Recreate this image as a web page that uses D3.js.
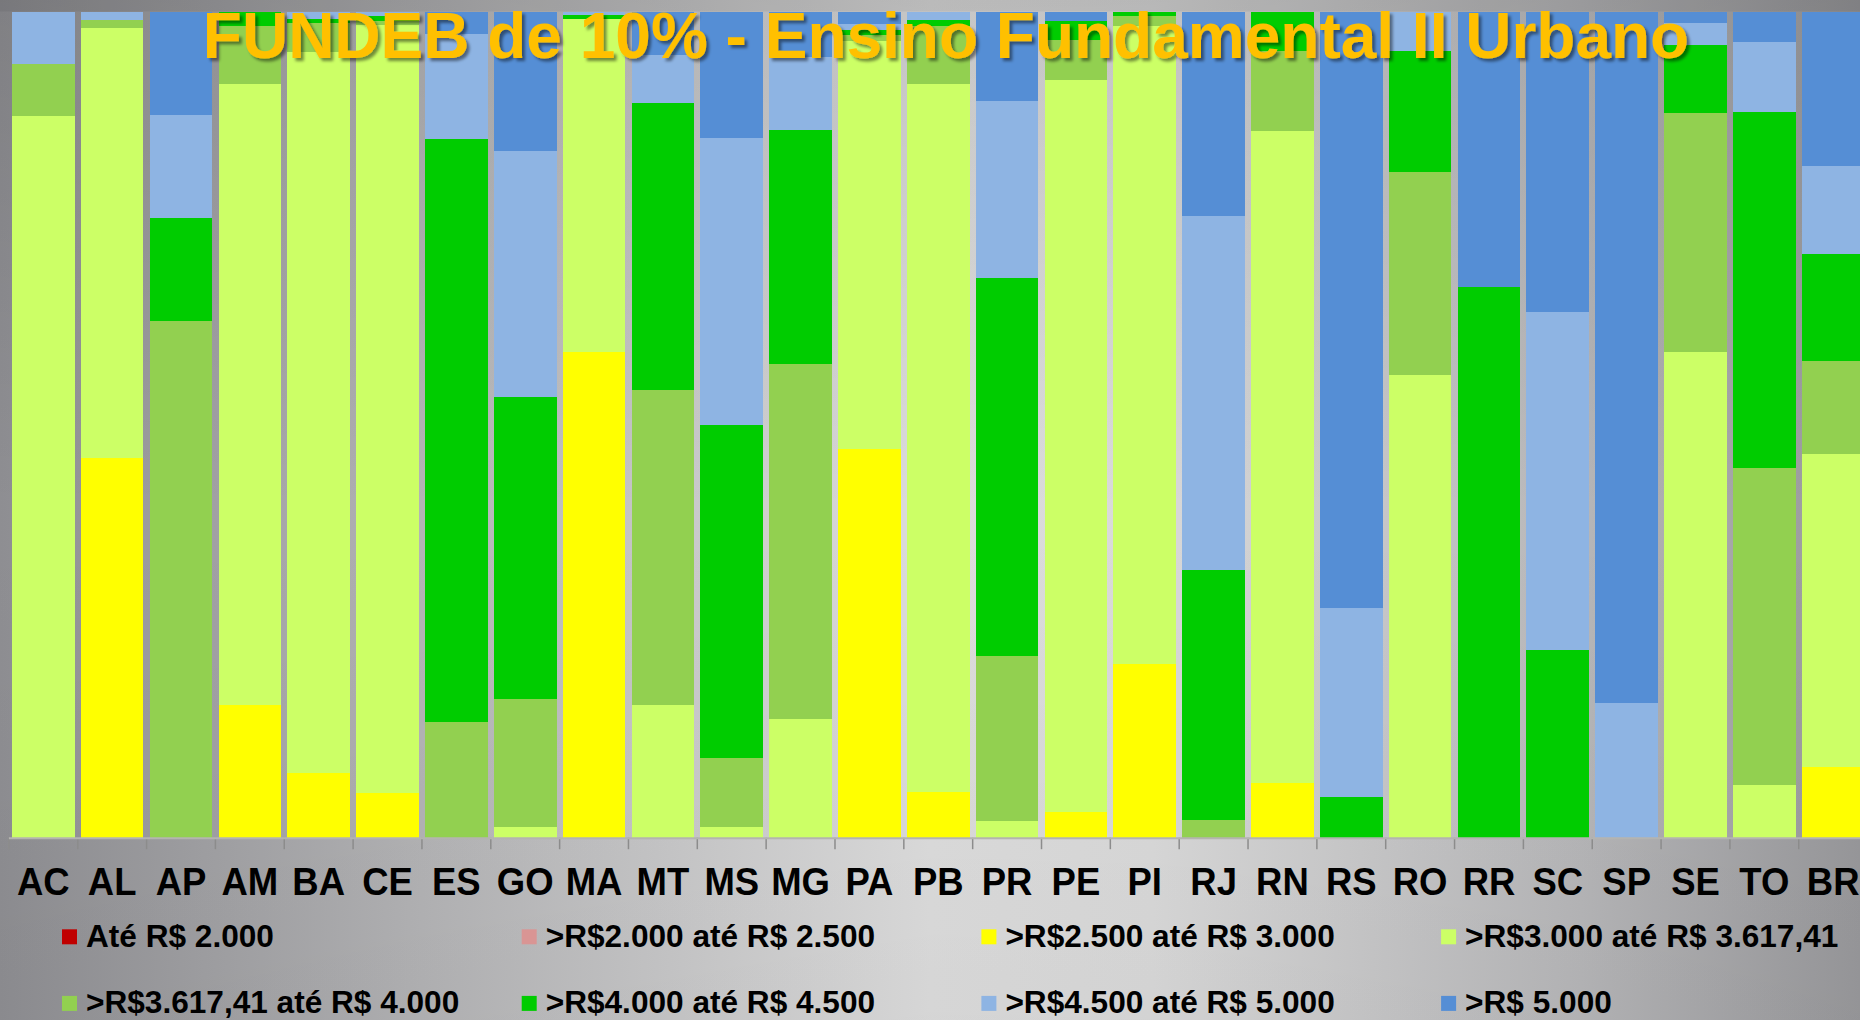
<!DOCTYPE html>
<html>
<head>
<meta charset="utf-8">
<script src="https://cdn.jsdelivr.net/npm/d3@7"></script>
<style>
  body { margin: 0; overflow: hidden; }
  svg { display: block; font-family: "Liberation Sans", Arial, sans-serif; }
</style>
</head>
<body>
<div class="chart"></div>
<script>
var states = ["AC", "AL", "AP", "AM", "BA", "CE", "ES", "GO", "MA", "MT", "MS", "MG", "PA", "PB",
  "PR", "PE", "PI", "RJ", "RN", "RS", "RO", "RR", "SC", "SP", "SE", "TO", "BR"];

var faixas = ["Até R$ 2.000", ">R$2.000 até R$ 2.500", ">R$2.500 até R$ 3.000", ">R$3.000 até R$ 3.617,41",
  ">R$3.617,41 até R$ 4.000", ">R$4.000 até R$ 4.500", ">R$4.500 até R$ 5.000", ">R$ 5.000"];
var cores = ["#C00000", "#D99594", "#FFFF00", "#CCFF66", "#92D050", "#00CC00", "#8EB4E3", "#558ED5"];

// share of municipalities (%) in each band, per state
var ate2000 = [0, 0, 0, 0, 0, 0, 0, 0, 0, 0, 0, 0, 0, 0, 0, 0, 0, 0, 0, 0, 0, 0, 0, 0, 0, 0, 0];
var de2000a2500 = [0, 0, 0, 0, 0, 0, 0, 0, 0, 0, 0, 0, 0, 0, 0, 0, 0, 0, 0, 0, 0, 0, 0, 0, 0, 0, 0];
var de2500a3000 = [0, 46.0, 0, 16.0, 7.8, 5.4, 0, 0, 58.8, 0, 0, 0, 47.0, 5.5,
  0, 3.1, 21.0, 0, 6.6, 0, 0, 0, 0, 0, 0, 0, 8.5];
var de3000a3617 = [87.4, 52.0, 0, 75.1, 87.2, 93.0, 0, 1.3, 40.3, 16.1, 1.3, 14.4, 49.3, 85.7,
  2.0, 88.6, 77.1, 0, 78.9, 0, 56.0, 0, 0, 0, 58.8, 6.4, 37.9];
var de3617a4000 = [6.3, 1.0, 62.5, 7.1, 3.5, 0.5, 14.0, 15.5, 0, 38.1, 8.4, 42.9, 0.8, 7.0,
  20.0, 4.9, 1.3, 2.1, 9.7, 0, 24.5, 0, 0, 0, 28.9, 38.4, 11.3];
var de4000a4500 = [0, 0, 12.5, 1.7, 0.5, 0.5, 70.5, 36.6, 0.5, 34.7, 40.3, 28.4, 0.6, 0.8,
  45.8, 2.3, 0.5, 30.3, 4.8, 4.9, 14.6, 66.7, 22.7, 0, 8.2, 43.0, 13.0];
var de4500a5000 = [6.3, 1.0, 12.5, 0, 0.9, 0.6, 12.7, 29.7, 0.4, 5.8, 34.8, 8.8, 0.7, 1.0,
  21.4, 0, 0, 42.8, 0, 22.9, 4.8, 0, 40.9, 16.3, 2.7, 8.5, 10.6];
var acima5000 = [0, 0, 12.5, 0, 0, 0, 2.7, 16.9, 0, 5.3, 15.3, 5.5, 1.5, 0,
  10.8, 1.1, 0, 24.8, 0, 72.2, 0, 33.3, 36.3, 83.7, 1.4, 3.7, 18.7];

var seriesValues = [ate2000, de2000a2500, de2500a3000, de3000a3617, de3617a4000, de4000a4500, de4500a5000, acima5000];

var svgWidth = 1860;
var svgHeight = 1020;
var plot = { left: 8.9, right: 1867.6, top: 11.5, bottom: 837.7 };

var svg = d3.select(".chart")
  .append("svg")
  .attr("width", svgWidth)
  .attr("height", svgHeight);

// background
var defs = svg.append("defs");
var bg = defs.append("linearGradient").attr("id", "bg").attr("x1", 0).attr("x2", 1).attr("y1", 0).attr("y2", 0);
[[0, "#8e8e92"], [0.22, "#b2b2b4"], [0.5, "#dcdcdc"], [0.62, "#d9d9d9"], [0.85, "#b6b6b8"], [1, "#98989b"]]
  .forEach(s => bg.append("stop").attr("offset", s[0]).attr("stop-color", s[1]));
var shade = defs.append("linearGradient").attr("id", "shade").attr("x1", 0).attr("x2", 0).attr("y1", 0).attr("y2", 1);
shade.append("stop").attr("offset", 0).attr("stop-color", "#000").attr("stop-opacity", 0.1);
shade.append("stop").attr("offset", 0.5).attr("stop-color", "#000").attr("stop-opacity", 0);
shade.append("stop").attr("offset", 1).attr("stop-color", "#000").attr("stop-opacity", 0.03);
var shadow = defs.append("filter").attr("id", "shadow").attr("x", "-5%").attr("y", "-20%").attr("width", "110%").attr("height", "150%");
shadow.append("feDropShadow").attr("dx", 3).attr("dy", 3).attr("stdDeviation", 1.5)
  .attr("flood-color", "#000").attr("flood-opacity", 0.45);

svg.append("rect").attr("width", svgWidth).attr("height", svgHeight).attr("fill", "url(#bg)");
svg.append("rect").attr("width", svgWidth).attr("height", svgHeight).attr("fill", "url(#shade)");
svg.append("rect").attr("width", svgWidth).attr("height", plot.top).attr("fill", "#000").attr("opacity", 0.06);

// table for the stack
var table = states.map((st, i) => {
  var row = { state: st };
  faixas.forEach((f, k) => { row[f] = seriesValues[k][i]; });
  return row;
});

var stacked = d3.stack()
  .keys(faixas)
  .offset(d3.stackOffsetExpand)(table);

var x = d3.scaleBand()
  .domain(states)
  .range([plot.left, plot.right])
  .paddingInner(0.09)
  .paddingOuter(0.045);

var y = d3.scaleLinear()
  .domain([0, 1])
  .range([plot.bottom, plot.top]);

var color = d3.scaleOrdinal().domain(faixas).range(cores);

svg.append("g")
  .selectAll("g")
  .data(stacked)
  .enter()
  .append("g")
  .attr("fill", d => color(d.key))
  .selectAll("rect")
  .data(d => d)
  .enter()
  .append("rect")
  .attr("x", d => x(d.data.state))
  .attr("y", d => y(d[1]))
  .attr("width", x.bandwidth())
  .attr("height", d => y(d[0]) - y(d[1]))
  .attr("shape-rendering", "crispEdges");

// category axis: labels from d3.axisBottom, tick marks between categories
var xAxis = svg.append("g")
  .attr("transform", `translate(0, ${plot.bottom})`)
  .call(d3.axisBottom(x).tickSize(0));
xAxis.select(".domain").remove();
xAxis.selectAll("text")
  .attr("y", 57)
  .attr("dy", null)
  .attr("transform", "scale(0.96,1)")
  .attr("fill", "#000")
  .style("font-size", "38px")
  .style("font-weight", "bold")
  .style("font-family", "'Liberation Sans', Arial, sans-serif");

var gap = x.step() - x.bandwidth();
var bounds = states.map(s => x(s) - gap / 2).concat([plot.right]);
svg.append("g")
  .selectAll("line")
  .data(bounds)
  .enter()
  .append("line")
  .attr("x1", d => d).attr("x2", d => d)
  .attr("y1", plot.bottom).attr("y2", plot.bottom + 11.5)
  .attr("stroke", "#8c8c8c")
  .attr("stroke-width", 1.5);
svg.append("line")
  .attr("x1", plot.left).attr("x2", plot.right)
  .attr("y1", plot.bottom + 0.5).attr("y2", plot.bottom + 0.5)
  .attr("stroke", "#b4b4b0")
  .attr("stroke-width", 2);

// title
svg.append("text")
  .attr("x", 946)
  .attr("y", 58)
  .attr("text-anchor", "middle")
  .attr("fill", "#FFC000")
  .attr("filter", "url(#shadow)")
  .style("font-size", "64px")
  .style("font-weight", "bold")
  .text("FUNDEB de 10% - Ensino Fundamental II Urbano");

// legend, 4 columns x 2 rows
var legend = svg.append("g")
  .selectAll("g")
  .data(faixas)
  .enter()
  .append("g")
  .attr("transform", (d, i) => `translate(${62 + (i % 4) * 459.7}, ${946.7 + Math.floor(i / 4) * 66.6})`);
legend.append("rect")
  .attr("x", 0)
  .attr("y", -17.4)
  .attr("width", 15)
  .attr("height", 15)
  .attr("fill", d => color(d));
legend.append("text")
  .attr("x", 24)
  .attr("y", 0)
  .attr("fill", "#000")
  .style("font-size", "31.6px")
  .style("font-weight", "bold")
  .text(d => d);
</script>
</body>
</html>
